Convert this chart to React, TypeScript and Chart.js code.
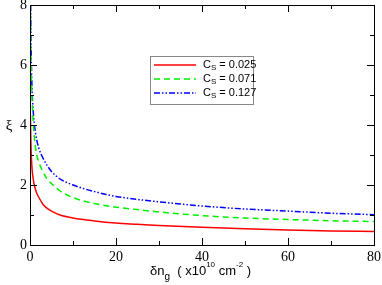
import React, { useEffect, useRef } from "react";
import { Chart, registerables } from "chart.js";

Chart.register(...registerables);

const xs = [0.1, 0.2, 0.3, 0.5, 0.75, 1, 1.5, 2, 3, 4, 5, 7, 10, 15, 20, 25, 30, 40, 50, 60, 70, 80];
const redVals = [4.35, 3.5, 3.0, 2.5, 2.2, 2.0, 1.75, 1.6, 1.36, 1.22, 1.13, 1.0, 0.9, 0.8, 0.73, 0.69, 0.65, 0.59, 0.54, 0.5, 0.47, 0.45];
const greenVals = [8.0, 6.5, 5.7, 4.8, 4.1, 3.6, 3.05, 2.78, 2.45, 2.2, 2.05, 1.8, 1.58, 1.38, 1.26, 1.18, 1.1, 0.98, 0.9, 0.85, 0.81, 0.78];
const blueVals = [9.5, 7.2, 6.2, 5.1, 4.45, 4.05, 3.55, 3.25, 2.9, 2.65, 2.45, 2.2, 2.0, 1.78, 1.62, 1.52, 1.44, 1.3, 1.2, 1.13, 1.06, 1.01];
const seriesLabels = ["0.025", "0.071", "0.127"];
const seriesColors = ["#ff0000", "#00ee00", "#0000ff"];
const seriesDashes = [[], [6, 4], [6, 2, 1.5, 2, 1.5, 2]];
const xMajor = [0, 20, 40, 60, 80];
const xMinor = [10, 30, 50, 70];
const yMajor = [0, 2, 4, 6, 8];
const yMinor = [1, 3, 5, 7];

const SANS = "'Liberation Sans', Arial, sans-serif";
const SERIF = "'Liberation Serif', 'Times New Roman', serif";

const framePlugin = {
  id: "frameAndText",
  afterDraw(chart: any) {
    const ctx = chart.ctx;
    const a = chart.chartArea;
    const xs_ = chart.scales.x;
    const ys_ = chart.scales.y;
    ctx.save();
    ctx.strokeStyle = "#000";
    ctx.lineWidth = 1;
    ctx.strokeRect(Math.round(a.left) + 0.5, Math.round(a.top) + 0.5, Math.round(a.right - a.left), Math.round(a.bottom - a.top));
    ctx.beginPath();
    const tick = (vals: number[], len: number) => {
      for (const v of vals) {
        const px = Math.round(xs_.getPixelForValue(v)) + 0.5;
        ctx.moveTo(px, a.bottom);
        ctx.lineTo(px, a.bottom - len);
        ctx.moveTo(px, a.top);
        ctx.lineTo(px, a.top + len);
      }
    };
    const ytick = (vals: number[], len: number) => {
      for (const v of vals) {
        const py = Math.round(ys_.getPixelForValue(v)) + 0.5;
        ctx.moveTo(a.left, py);
        ctx.lineTo(a.left + len, py);
        ctx.moveTo(a.right, py);
        ctx.lineTo(a.right - len, py);
      }
    };
    tick(xMajor, 7);
    tick(xMinor, 4);
    ytick(yMajor, 7);
    ytick(yMinor, 4);
    ctx.stroke();

    // legend
    const lx = 150, ly = 56, lw = 103, lh = 48;
    ctx.fillStyle = "#fff";
    ctx.fillRect(lx, ly, lw, lh);
    ctx.strokeStyle = "#888";
    ctx.strokeRect(lx + 0.5, ly + 0.5, lw, lh);
    ctx.textBaseline = "middle";
    ctx.textAlign = "left";
    for (let i = 0; i < 3; i++) {
      const ry = 65 + i * 14;
      ctx.strokeStyle = seriesColors[i];
      ctx.lineWidth = 1.5;
      ctx.setLineDash(seriesDashes[i]);
      ctx.beginPath();
      ctx.moveTo(154, ry);
      ctx.lineTo(196, ry);
      ctx.stroke();
      ctx.setLineDash([]);
      ctx.fillStyle = "#000";
      ctx.font = `11px ${SANS}`;
      ctx.fillText("C", 203, ry);
      const cw = ctx.measureText("C").width;
      ctx.font = `8px ${SANS}`;
      ctx.fillText("S", 203 + cw, ry + 3);
      const sw = ctx.measureText("S").width;
      ctx.font = `11px ${SANS}`;
      ctx.fillText(" = " + seriesLabels[i], 203 + cw + sw, ry);
    }

    // y title
    ctx.fillStyle = "#000";
    ctx.font = `15px ${SERIF}`;
    ctx.textAlign = "center";
    ctx.fillText("ξ", 9, 126);

    // x title
    ctx.textAlign = "left";
    let x = 150;
    const y = 271;
    const put = (t: string, size: number, dy: number) => {
      ctx.font = `${size}px ${SANS}`;
      ctx.fillText(t, x, y + dy);
      x += ctx.measureText(t).width;
    };
    put("δn", 13, 0);
    put("g", 10, 6);
    put("  ( x10", 13, 0);
    put("10", 8, -6);
    put(" cm", 13, 0);
    put("-2", 8, -6);
    put(" )", 13, 0);
    ctx.restore();
  },
};

export default function App() {
  const ref = useRef<HTMLCanvasElement | null>(null);
  useEffect(() => {
    document.body.style.margin = "0";
    const mk = (vals: number[]) => xs.map((x, i) => ({ x, y: vals[i] }));
    const all = [redVals, greenVals, blueVals];
    const chart = new Chart(ref.current as HTMLCanvasElement, {
      type: "line",
      data: {
        datasets: all.map((vals, i) => ({
          label: seriesLabels[i],
          data: mk(vals),
          borderColor: seriesColors[i],
          borderWidth: 1.5,
          borderDash: seriesDashes[i],
          pointRadius: 0,
          fill: false,
          cubicInterpolationMode: "monotone" as const,
        })),
      },
      options: {
        animation: false,
        responsive: false,
        maintainAspectRatio: false,
        layout: { padding: { top: 5, right: 8, left: 0, bottom: 0 } },
        plugins: { legend: { display: false }, tooltip: { enabled: false }, title: { display: false } },
        scales: {
          x: {
            type: "linear",
            min: 0,
            max: 80,
            grid: { display: false, drawTicks: false },
            border: { display: false },
            ticks: { stepSize: 20, color: "#000", font: { family: SERIF, size: 14 }, padding: 4, maxRotation: 0 },
            afterFit: (s: any) => { s.height = 40; s.paddingLeft = 0; s.paddingRight = 0; },
          },
          y: {
            type: "linear",
            min: 0,
            max: 8,
            grid: { display: false, drawTicks: false },
            border: { display: false },
            ticks: { stepSize: 2, color: "#000", font: { family: SERIF, size: 14 }, padding: 3 },
            afterFit: (s: any) => { s.width = 30; s.paddingTop = 0; s.paddingBottom = 0; },
          },
        },
      },
      plugins: [framePlugin],
    });
    return () => chart.destroy();
  }, []);
  return (
    <div style={{ width: 382, height: 285 }}>
      <canvas ref={ref} width={382} height={285} style={{ display: "block" }} />
    </div>
  );
}
